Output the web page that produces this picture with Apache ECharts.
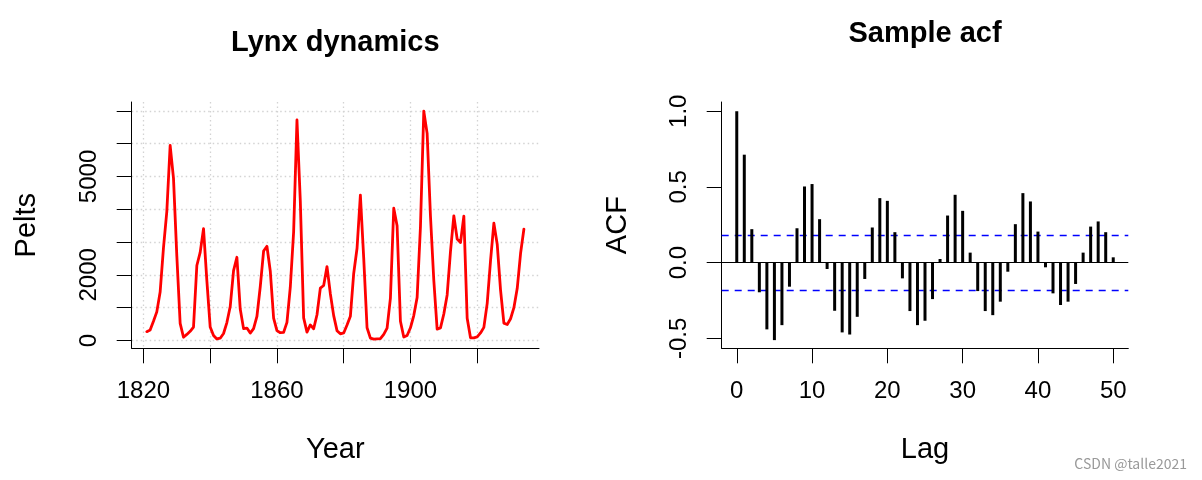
<!DOCTYPE html>
<html>
<head>
<meta charset="utf-8">
<script src="https://cdn.jsdelivr.net/npm/echarts@6/dist/echarts.min.js"></script>
<style>
html,body{margin:0;padding:0;background:#fff;}
#main{width:1202px;height:480px;}
</style>
</head>
<body>
<div id="main"></div>
<script>
// Lynx pelts, 1821-1934
const startYear = 1821;
const lynxPelts = [
  269, 321, 585, 871, 1475, 2821, 3928, 5943, 4950, 2577,
  523, 98, 184, 279, 409, 2285, 2685, 3409, 1824, 409,
  151, 45, 68, 213, 546, 1033, 2129, 2536, 957, 361,
  377, 225, 360, 731, 1638, 2725, 2871, 2119, 684, 299,
  236, 245, 552, 1623, 3311, 6721, 4254, 687, 255, 473,
  358, 784, 1594, 1676, 2251, 1426, 756, 299, 201, 229,
  469, 736, 2042, 2811, 4431, 2511, 389, 73, 39, 49,
  59, 188, 377, 1292, 4031, 3495, 587, 105, 153, 387,
  758, 1307, 3465, 6991, 6313, 3794, 1836, 345, 382, 808,
  1388, 2713, 3800, 3091, 2985, 3790, 674, 81, 80, 108,
  229, 399, 1132, 2432, 3574, 2935, 1537, 529, 485, 662,
  1000, 1590, 2657, 3396
];
// Sample ACF, lags 0..50
const acfValues = [
  1.000, 0.713, 0.221, -0.196, -0.441, -0.512, -0.413, -0.159, 0.227, 0.503,
  0.519, 0.287, -0.042, -0.318, -0.461, -0.475, -0.358, -0.108, 0.232, 0.426,
  0.408, 0.201, -0.104, -0.320, -0.413, -0.384, -0.241, 0.024, 0.311, 0.448,
  0.342, 0.066, -0.188, -0.320, -0.347, -0.258, -0.060, 0.254, 0.459, 0.404,
  0.205, -0.031, -0.203, -0.280, -0.258, -0.141, 0.066, 0.238, 0.272, 0.201,
  0.035
];
const ciLevel = 0.1836;

const yearTicks = [1820, 1840, 1860, 1880, 1900, 1920];
const yearLabels = [1820, 1860, 1900];
const peltTicks = [0, 1000, 2000, 3000, 4000, 5000, 6000, 7000];
const peltLabels = [0, 2000, 5000];
const lagTicks = [0, 10, 20, 30, 40, 50];
const acfTicks = [-0.5, 0, 0.5, 1.0];

const lynxData = lynxPelts.map((v, i) => [startYear + i, v]);
const acfData = acfValues.map((v, i) => [i, v]);

const FONT = '"Liberation Sans", Arial, sans-serif';
const axisLineStyle = { color: '#000', width: 1 };
const plain = v => String(Math.round(v));

const chart = echarts.init(document.getElementById('main'), null, { renderer: 'canvas' });
const option = {
  backgroundColor: '#fff',
  animation: false,
  textStyle: { fontFamily: FONT },
  grid: [
    { left: 131.7, top: 102, width: 407.3, height: 246.3 },
    { left: 721.7, top: 102, width: 406.6, height: 246.3 }
  ],
  xAxis: [
    {
      type: 'value', gridIndex: 0, min: 1816.48, max: 1938.52,
      name: 'Year', nameLocation: 'middle', nameGap: 87,
      nameTextStyle: { fontSize: 29, color: '#000', fontFamily: FONT },
      axisLine: { show: true, onZero: false, lineStyle: axisLineStyle },
      axisTick: { show: true, inside: false, length: 15, customValues: yearTicks, lineStyle: axisLineStyle },
      axisLabel: { customValues: yearLabels, fontSize: 24, color: '#000', margin: 31, fontFamily: FONT, formatter: plain },
      splitLine: { show: true, lineStyle: { color: '#d3d3d3', type: [1.5, 3], width: 1.3 } }
    },
    {
      type: 'value', gridIndex: 1, min: -2, max: 52,
      name: 'Lag', nameLocation: 'middle', nameGap: 87,
      nameTextStyle: { fontSize: 29, color: '#000', fontFamily: FONT },
      axisLine: { show: true, onZero: false, lineStyle: axisLineStyle },
      axisTick: { show: true, inside: false, length: 15, customValues: lagTicks, lineStyle: axisLineStyle },
      axisLabel: { customValues: lagTicks, fontSize: 24, color: '#000', margin: 31, fontFamily: FONT, formatter: plain },
      splitLine: { show: false }
    }
  ],
  yAxis: [
    {
      type: 'value', gridIndex: 0, min: -239, max: 7269,
      name: 'Pelts', nameLocation: 'middle', nameGap: 90,
      nameTextStyle: { fontSize: 29, color: '#000', fontFamily: FONT },
      axisLine: { show: true, onZero: false, lineStyle: axisLineStyle },
      axisTick: { show: true, inside: false, length: 15, customValues: peltTicks, lineStyle: axisLineStyle },
      axisLabel: { customValues: peltLabels, fontSize: 24, color: '#000', margin: 30, rotate: 90, fontFamily: FONT, formatter: plain },
      splitLine: { show: true, lineStyle: { color: '#d3d3d3', type: [1.5, 3], width: 1.3 } }
    },
    {
      type: 'value', gridIndex: 1, min: -0.566, max: 1.061,
      name: 'ACF', nameLocation: 'middle', nameGap: 89,
      nameTextStyle: { fontSize: 29, color: '#000', fontFamily: FONT },
      axisLine: { show: true, onZero: false, lineStyle: axisLineStyle },
      axisTick: { show: true, inside: false, length: 15, customValues: acfTicks, lineStyle: axisLineStyle },
      axisLabel: { customValues: acfTicks, fontSize: 24, color: '#000', margin: 30, rotate: 90, fontFamily: FONT,
        formatter: v => Number(v).toFixed(1) },
      splitLine: { show: false }
    }
  ],
  series: [
    {
      type: 'line', xAxisIndex: 0, yAxisIndex: 0, data: lynxData,
      showSymbol: false, symbol: 'none', smooth: false,
      lineStyle: { color: '#ff0000', width: 2.8, join: 'round', cap: 'round' },
      z: 5
    },
    {
      type: 'bar', xAxisIndex: 1, yAxisIndex: 1, data: acfData,
      barWidth: 3, itemStyle: { color: '#000' },
      markLine: {
        silent: true, symbol: 'none', label: { show: false },
        data: [
          { yAxis: 0, lineStyle: { color: '#000', type: 'solid', width: 1.2 } },
          { yAxis: ciLevel, lineStyle: { color: '#0000ff', type: [7, 6], width: 1.3 } },
          { yAxis: -ciLevel, lineStyle: { color: '#0000ff', type: [7, 6], width: 1.3 } }
        ]
      },
      z: 5
    }
  ],
  graphic: [
    { type: 'text', x: 335.3, y: 43, style: { text: 'Lynx dynamics', font: 'bold 29px ' + FONT, fill: '#000', align: 'center', verticalAlign: 'middle' } },
    { type: 'text', x: 925, y: 33.5, style: { text: 'Sample acf', font: 'bold 29px ' + FONT, fill: '#000', align: 'center', verticalAlign: 'middle' } },
    { type: 'text', x: 1187, y: 464, style: { text: 'CSDN @talle2021', font: '14px "Noto Sans CJK SC", sans-serif', fill: '#999999', align: 'right', verticalAlign: 'middle' } }
  ]
};
chart.setOption(option);
</script>
</body>
</html>
